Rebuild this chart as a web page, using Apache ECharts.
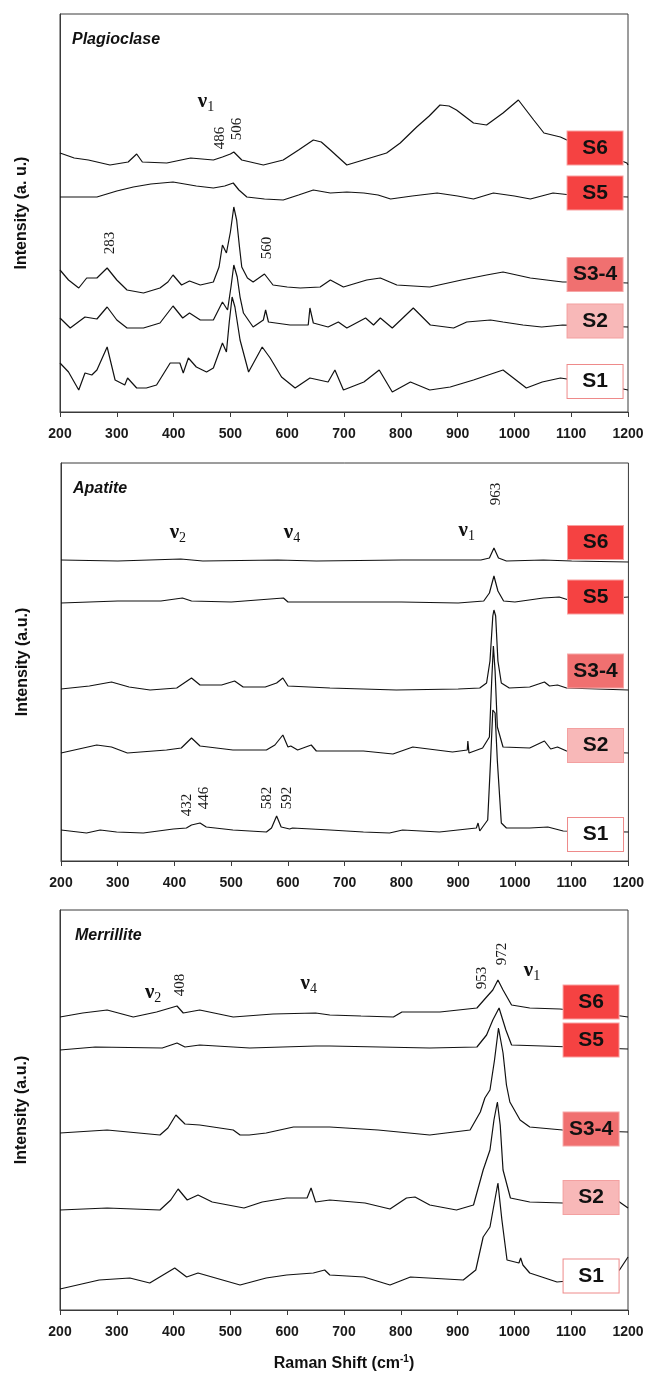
<!DOCTYPE html>
<html lang="en">
<head>
<meta charset="UTF-8">
<title>Raman spectra | Plagioclase, Apatite, Merrillite</title>
<script src="https://cdn.jsdelivr.net/npm/echarts@6/dist/echarts.min.js"></script>
<style>
  html, body { margin: 0; padding: 0; background: #ffffff; }
  #chart { width: 647px; height: 1376px; }
</style>
</head>
<body>
<div id="chart"></div>
<script>
  // ---- data: [Raman shift (cm-1), stacked intensity (a.u.)] ----
  const sampleNames = ['S6', 'S5', 'S3-4', 'S2', 'S1'];
  const xTicks = [200, 300, 400, 500, 600, 700, 800, 900, 1000, 1100, 1200];

  const plagS6 = [[200,259],[225,254],[250,252],[288,247],[320,250],[335,258],[345,250],[388,249],[430,254],[470,252],[486,255],[500,258],[506,260],[520,252],[558,247],[593,252],[620,262],[646,272],[660,270],[676,262],[705,247],[740,253],[775,259],[799,269],[828,285],[850,296],[869,307],[885,306],[898,302],[928,289],[951,287],[980,299],[1007,312],[1034,292],[1052,279],[1081,275],[1100,270],[1150,260],[1198,249],[1200,247]];
  const plagS5 = [[200,215],[265,215],[300,221],[329,225],[360,228],[399,230],[440,226],[470,224],[490,226],[505,229],[515,222],[529,215],[560,213],[593,212],[620,217],[646,222],[676,219],[705,220],[735,219],[760,217],[782,213],[820,216],[864,219],[900,216],[928,213],[963,219],[1000,216],[1028,213],[1068,219],[1100,217],[1150,216],[1200,215]];
  const plagS34 = [[200,142],[215,132],[233,124],[247,134],[265,134],[283,144],[300,132],[318,122],[347,119],[376,124],[390,130],[399,137],[414,127],[428,131],[447,127],[470,130],[480,145],[486,167],[493,159],[500,180],[506,205],[511,192],[516,165],[520,145],[530,134],[540,130],[560,138],[575,127],[600,125],[623,124],[658,125],[676,132],[699,125],[740,132],[764,134],[793,127],[851,125],[907,132],[951,137],[980,140],[1028,134],[1085,130],[1150,130],[1200,129]];
  const plagS2 = [[200,94],[218,84],[244,95],[265,93],[283,105],[300,92],[318,84],[347,84],[376,89],[399,106],[416,94],[428,99],[447,92],[470,92],[486,110],[495,102],[501,125],[506,147],[512,135],[517,115],[523,99],[540,85],[558,92],[562,102],[567,90],[605,87],[637,87],[640,104],[646,89],[672,85],[690,90],[705,84],[738,94],[752,87],[764,94],[785,84],[822,104],[852,87],[893,84],[916,90],[958,92],[980,90],[1015,87],[1048,85],[1085,87],[1150,86],[1200,85]];
  const plagS1 = [[200,49],[215,40],[233,22],[244,39],[256,37],[265,42],[283,65],[297,32],[314,27],[319,34],[335,24],[352,24],[370,27],[394,49],[411,49],[417,39],[426,54],[440,45],[458,40],[470,44],[486,69],[493,60],[498,90],[503,115],[508,105],[517,72],[532,40],[556,65],[570,54],[590,35],[614,24],[640,34],[672,30],[684,42],[699,22],[735,30],[762,42],[785,20],[817,30],[851,22],[887,25],[928,32],[980,42],[1021,24],[1049,30],[1081,34],[1150,28],[1200,22]];

  const apaS6 = [[200,301],[300,300],[411,302],[450,300],[582,301],[650,300],[800,301],[940,301],[955,303],[963,313],[971,303],[985,300],[1050,301],[1100,300],[1200,299]];
  const apaS5 = [[200,258],[300,260],[376,260],[414,263],[430,260],[500,259],[592,263],[600,259],[700,259],[800,259],[900,258],[945,260],[955,268],[963,285],[970,270],[980,260],[1000,259],[1050,263],[1078,264],[1100,260],[1200,264]];
  const apaS34 = [[200,172],[250,175],[289,179],[320,174],[357,171],[404,173],[430,183],[445,176],[483,176],[506,180],[521,174],[560,174],[580,178],[591,183],[600,175],[674,173],[791,171],[900,172],[938,173],[950,178],[956,200],[961,245],[963,251],[966,245],[970,200],[976,178],[990,173],[1026,174],[1052,179],[1061,175],[1075,176],[1091,173],[1200,171]];
  const apaS2 = [[200,108],[263,116],[289,114],[317,108],[386,111],[412,113],[430,123],[445,115],[503,111],[562,111],[577,116],[591,126],[600,114],[605,115],[617,111],[641,116],[650,110],[674,110],[733,110],[785,107],[820,114],[890,109],[916,111],[917,120],[919,108],[943,113],[955,124],[959,180],[962,215],[965,190],[969,134],[979,114],[1026,113],[1052,120],[1063,112],[1075,114],[1091,110],[1200,108]];
  const apaS1 = [[200,31],[245,28],[269,31],[298,29],[345,28],[398,32],[421,33],[430,36],[445,38],[456,34],[503,31],[562,29],[571,33],[580,45],[588,34],[603,32],[608,33],[674,31],[733,29],[779,28],[802,31],[867,29],[932,33],[935,38],[938,30],[943,34],[952,41],[957,100],[961,151],[965,148],[969,100],[976,38],[985,33],[1026,33],[1058,34],[1085,30],[1200,29]];

  const merS6 = [[200,293],[240,297],[283,300],[329,293],[370,298],[406,304],[417,297],[446,300],[505,293],[575,296],[650,297],[675,295],[730,294],[787,293],[802,298],[869,298],[934,302],[951,313],[962,320],[971,330],[980,320],[995,305],[1027,302],[1080,301],[1150,297],[1200,293]];
  const merS5 = [[200,260],[262,263],[380,262],[406,267],[420,263],[446,265],[534,262],[650,264],[675,264],[851,262],[934,263],[951,275],[962,290],[973,302],[985,280],[995,265],[1050,264],[1100,263],[1200,261]];
  const merS34 = [[200,177],[283,180],[376,175],[390,182],[404,195],[420,186],[446,185],[505,180],[517,175],[533,175],[563,177],[611,183],[675,183],[760,180],[851,175],[922,180],[940,198],[948,212],[957,220],[965,250],[972,282],[980,257],[986,225],[992,208],[1010,190],[1027,183],[1085,180],[1200,178]];
  const merS2 = [[200,100],[283,102],[376,100],[395,110],[408,121],[424,110],[443,115],[468,108],[524,102],[556,108],[599,112],[635,112],[642,122],[650,108],[675,110],[737,107],[781,101],[810,112],[825,113],[851,105],[898,100],[928,105],[945,140],[957,160],[964,190],[970,208],[975,185],[980,140],[993,112],[1027,108],[1085,107],[1150,108],[1180,110],[1200,102]];
  const merS1 = [[200,21],[269,30],[323,32],[358,27],[402,42],[423,33],[443,37],[517,25],[563,32],[599,35],[646,37],[666,40],[675,35],[735,33],[781,25],[817,33],[910,30],[932,40],[945,73],[957,83],[964,105],[971,127],[978,90],[987,50],[1008,47],[1011,52],[1015,45],[1027,37],[1075,28],[1150,32],[1185,40],[1200,53]];

  // peak annotations: [shift, height, text]
  const plagPeaks = [[482,274,'486'],[512,283,'506'],[288,169,'283'],[564,164,'560']];
  const apaPeaks = [[966,367,'963'],[422,56,'432'],[453,63,'446'],[564,63,'582'],[598,63,'592']];
  const merPeaks = [[411,325,'408'],[943,332,'953'],[978,356,'972']];
  // vibration modes: [shift, height, subscript]
  const plagModes = [[457,310,'1']];
  const apaModes = [[406,328,'2'],[607,328,'4'],[915,330,'1']];
  const merModes = [[364,317,'2'],[638,326,'4'],[1031,339,'1']];

  // ---- layout ----
  const SANS = 'Liberation Sans, Arial, sans-serif';
  const SERIF = 'Liberation Serif, Times New Roman, serif';
  const boxFill = ['#f54242', '#f54242', '#f07070', '#f8b8b8', '#ffffff'];
  const boxBorder = ['#f9a0a0', '#f9a0a0', '#f6a6a6', '#f3a0a0', '#ee8a8a'];

  const panels = [
    { name: 'Plagioclase', yName: 'Intensity (a. u.)', grid: { left: 60, top: 14, width: 568, height: 398 }, ymax: 398,
      spectra: [plagS6, plagS5, plagS34, plagS2, plagS1], peaks: plagPeaks, modes: plagModes,
      boxX: 1142, boxY: [264, 219, 137.5, 91, 30.5] },
    { name: 'Apatite', yName: 'Intensity (a.u.)', grid: { left: 61, top: 463, width: 568, height: 398 }, ymax: 398,
      spectra: [apaS6, apaS5, apaS34, apaS2, apaS1], peaks: apaPeaks, modes: apaModes,
      boxX: 1142, boxY: [318.5, 264, 190, 115.5, 26.5] },
    { name: 'Merrillite', yName: 'Intensity (a.u.)', grid: { left: 60, top: 910, width: 568, height: 400 }, ymax: 400,
      spectra: [merS6, merS5, merS34, merS2, merS1], peaks: merPeaks, modes: merModes,
      boxX: 1135, boxY: [308, 270, 181, 112.5, 34] }
  ];

  const grid = [], xAxis = [], yAxis = [], series = [], title = [];

  panels.forEach(function (p, i) {
    grid.push(Object.assign({ show: true, borderColor: '#3a3a3a', borderWidth: 1, backgroundColor: 'transparent' }, p.grid));

    title.push({
      text: p.name, left: p.grid.left + (i === 2 ? 10 : 7), top: p.grid.top + 13,
      textStyle: { fontFamily: SANS, fontSize: 16, fontWeight: 'bold', fontStyle: 'italic', color: '#111' }
    });

    xAxis.push({
      gridIndex: i, type: 'value', min: xTicks[0], max: xTicks[xTicks.length - 1], interval: 100,
      axisLine: { show: true, lineStyle: { color: '#3a3a3a', width: 1 } },
      axisTick: { show: true, length: 5, lineStyle: { color: '#3a3a3a' } },
      axisLabel: {
        margin: 15, fontFamily: SANS, fontSize: 14, fontWeight: 'bold', color: '#1a1a1a',
        formatter: function (v) { return String(v); }
      },
      splitLine: { show: false },
      name: i === 2 ? '{a|Raman Shift (cm}{b|-1}{a|)}' : '',
      nameLocation: 'middle', nameGap: 44,
      nameTextStyle: {
        rich: {
          a: { fontFamily: SANS, fontSize: 16, fontWeight: 'bold', color: '#111' },
          b: { fontFamily: SANS, fontSize: 10, fontWeight: 'bold', color: '#111', padding: [0, 0, 9, 0] }
        }
      }
    });

    yAxis.push({
      gridIndex: i, type: 'value', min: 0, max: p.ymax,
      axisLine: { show: true, lineStyle: { color: '#3a3a3a' } },
      axisTick: { show: false }, axisLabel: { show: false }, splitLine: { show: false },
      name: p.yName, nameLocation: 'middle', nameGap: 30,
      nameTextStyle: { fontFamily: SANS, fontSize: 16, fontWeight: 'bold', color: '#111' }
    });

    p.spectra.forEach(function (d, k) {
      series.push({
        type: 'line', name: p.name + ' ' + sampleNames[k], data: d,
        xAxisIndex: i, yAxisIndex: i, symbol: 'none', silent: true, animation: false,
        lineStyle: { color: '#111', width: 1.2 }
      });
    });

    // rotated peak positions
    series.push({
      type: 'scatter', xAxisIndex: i, yAxisIndex: i, symbolSize: 0, silent: true, animation: false, z: 5,
      itemStyle: { opacity: 1 },
      data: p.peaks.map(function (a) {
        return { value: [a[0], a[1]], label: { formatter: a[2] } };
      }),
      label: { show: true, position: 'inside', rotate: 90, fontFamily: SERIF, fontSize: 15, color: '#1a1a1a' }
    });

    // nu labels
    series.push({
      type: 'scatter', xAxisIndex: i, yAxisIndex: i, symbolSize: 0, silent: true, animation: false, z: 5,
      itemStyle: { opacity: 1 },
      data: p.modes.map(function (a) {
        return { value: [a[0], a[1]], label: { formatter: '{n|\u03bd}{s|' + a[2] + '}' } };
      }),
      label: {
        show: true, position: 'inside',
        rich: {
          n: { fontFamily: SERIF, fontSize: 21, fontWeight: 'bold', color: '#111', lineHeight: 24 },
          s: { fontFamily: SERIF, fontSize: 14, color: '#111', padding: [10, 0, 0, 0] }
        }
      }
    });

    // sample boxes
    series.push({
      type: 'scatter', xAxisIndex: i, yAxisIndex: i, symbolSize: 0, silent: true, animation: false, z: 6,
      itemStyle: { opacity: 1 },
      data: sampleNames.map(function (s, k) {
        return {
          value: [p.boxX, p.boxY[k]],
          label: { formatter: s, backgroundColor: boxFill[k], borderColor: boxBorder[k] }
        };
      }),
      label: {
        show: true, position: 'inside', width: 55, height: 33, lineHeight: 33, align: 'center',
        borderWidth: 1, fontFamily: SANS, fontSize: 21, fontWeight: 'bold', color: '#111'
      }
    });
  });

  const chart = echarts.init(document.getElementById('chart'), null, { renderer: 'canvas' });
  chart.setOption({ backgroundColor: '#ffffff', animation: false, title: title, grid: grid, xAxis: xAxis, yAxis: yAxis, series: series });
</script>
</body>
</html>
